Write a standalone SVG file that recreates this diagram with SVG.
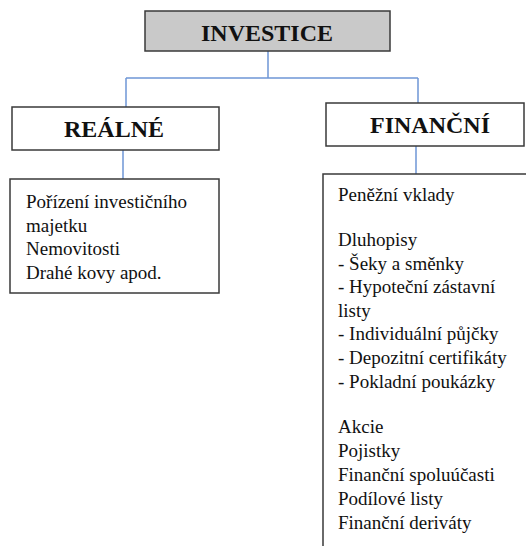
<svg xmlns="http://www.w3.org/2000/svg" width="526" height="546" viewBox="0 0 526 546">
<style>
.box{fill:#fff;stroke:#3a3a3a;stroke-width:1.5}
.gray{fill:#c9c9c9}
.title{font-family:'Liberation Serif',serif;font-weight:bold;font-size:24px;fill:#111;text-anchor:middle}
.conn{stroke:#6f97d6;stroke-width:1.5;fill:none}
</style>
<rect width="526" height="546" fill="#fff"/>
<g id="connectors">
<path class="conn" d="M268,51 V78 M126,78 H418 M126,78 V107 M418,78 V103 M123,150 V179 M416,146 V174"/>
</g>
<g id="investice">
<rect class="box gray" x="145" y="11" width="245" height="40"/>
<text class="title" x="267" y="41">INVESTICE</text>
</g>
<g id="realne">
<rect class="box" x="12" y="107" width="207" height="43"/>
<text class="title" x="114" y="137">REÁLNÉ</text>
</g>
<g id="realne-list" font-family="Tinos, 'Liberation Serif', 'Noto Serif', serif" font-size="19" font-weight="400" fill="#111">
<rect class="box" x="10" y="179" width="209" height="114"/>
<text x="26" y="208">Pořízení investičního</text>
<text x="26" y="231.5">majetku</text>
<text x="26" y="255">Nemovitosti</text>
<text x="26" y="278.5">Drahé kovy apod.</text>
</g>
<g id="financni">
<rect class="box" x="326" y="103" width="198" height="43"/>
<text class="title" x="430" y="133">FINANČNÍ</text>
</g>
<g id="financni-list" font-family="Tinos, 'Liberation Serif', 'Noto Serif', serif" font-size="19" font-weight="400" fill="#111">
<rect class="box" x="323" y="174" width="230" height="400"/>
<text x="338" y="201">Peněžní vklady</text>
<text x="338" y="246">Dluhopisy</text>
<text x="338" y="269.5">- Šeky a směnky</text>
<text x="338" y="293">- Hypoteční zástavní</text>
<text x="338" y="316.5">listy</text>
<text x="338" y="340">- Individuální půjčky</text>
<text x="338" y="364">- Depozitní certifikáty</text>
<text x="338" y="387.5">- Pokladní poukázky</text>
<text x="338" y="433">Akcie</text>
<text x="338" y="457">Pojistky</text>
<text x="338" y="481">Finanční spoluúčasti</text>
<text x="338" y="504.5">Podílové listy</text>
<text x="338" y="528.5">Finanční deriváty</text>
</g>
</svg>
